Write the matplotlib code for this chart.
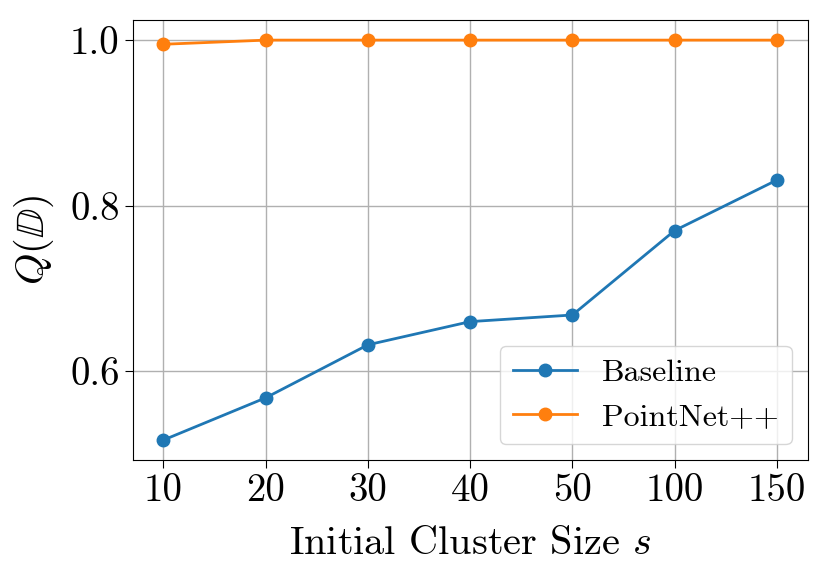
import numpy as np
import matplotlib
matplotlib.use("Agg")
import matplotlib.pyplot as plt

plt.rcParams['mathtext.fontset'] = 'cm'
plt.rcParams['font.family'] = 'serif'
plt.rcParams['font.serif'] = ['cmr10']
plt.rcParams['axes.formatter.use_mathtext'] = True

sizes = ['10', '20', '30', '40', '50', '100', '150']
baseline = [0.517, 0.568, 0.632, 0.660, 0.668, 0.770, 0.831]
pointnet = [0.995, 1.0, 1.0, 1.0, 1.0, 1.0, 1.0]

fig, ax = plt.subplots(figsize=(8.3, 5.75), dpi=100)
x = np.arange(len(sizes))
ax.plot(x, baseline, marker='o', markersize=9, linewidth=2, label='Baseline')
ax.plot(x, pointnet, marker='o', markersize=9, linewidth=2, label='PointNet++')
ax.set_xticks(x)
ax.set_xticklabels(sizes)
ax.set_yticks([0.6, 0.8, 1.0])
ax.set_yticklabels(['0.6', '0.8', '1.0'])
ax.tick_params(labelsize=28, length=6)
ax.set_xlabel('Initial Cluster Size $s$', fontsize=29, labelpad=12)
ax.set_ylabel(r'$Q(\mathbb{D})$', fontsize=29, labelpad=10)
ax.grid(True, color='#b0b0b0', linewidth=1)
ax.legend(loc='lower right', fontsize=23)
fig.subplots_adjust(left=0.16, right=0.973, top=0.965, bottom=0.2)
fig.savefig('out.png')
